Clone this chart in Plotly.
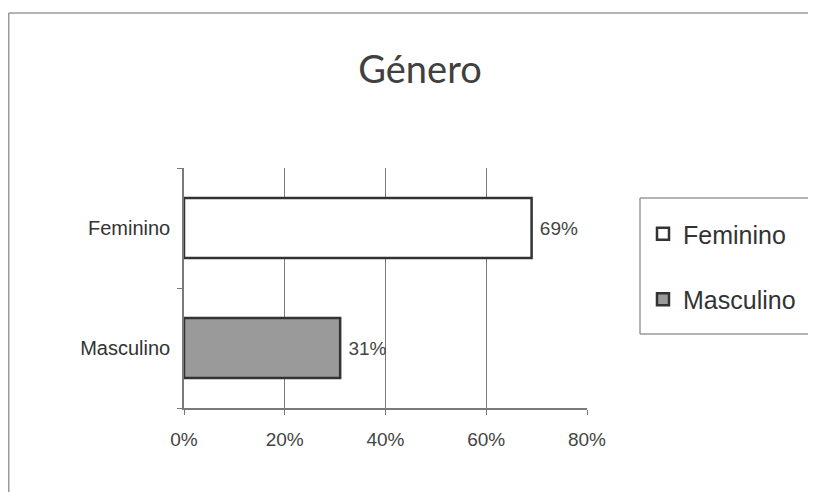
import plotly.graph_objects as go

categories = ["Feminino", "Masculino"]
values = [0.69, 0.31]
labels = ["69%", "31%"]
fills = ["#ffffff", "#9a9a9a"]
x_ticks = [0, 0.2, 0.4, 0.6, 0.8]
x_tick_labels = ["0%", "20%", "40%", "60%", "80%"]

# the page has an 8px body margin; figure coordinates = screen - 8
OFF = 8
W, H = 816 - OFF, 492 - OFF
L, R, T, B = 184 - OFF, W - (587 - OFF), 168 - OFF, H - (408 - OFF)
pw, ph = W - L - R, H - T - B

def px_x(x):
    return (x - OFF - L) / pw

def px_y(y):
    return (H - B - (y - OFF)) / ph

fig = go.Figure()
for c, v, lab, f in zip(categories, values, labels, fills):
    fig.add_trace(go.Bar(
        y=[c], x=[v], orientation="h", name=c, legendgroup=c,
        marker=dict(color=f, line=dict(color="#333333", width=2.5)),
        width=0.5, text=[lab], texttemplate=" %{text}", textposition="outside",
        textfont=dict(family="Liberation Sans", size=19, color="#444444"),
        cliponaxis=False,
    ))

fig.update_layout(
    width=W, height=H,
    margin=dict(l=L, r=R, t=T, b=B),
    paper_bgcolor="white", plot_bgcolor="white",
    barmode="overlay",
    title=dict(text="Género", x=(420 - OFF) / W, xref="container", xanchor="center",
               y=1 - (70 - OFF) / H, yref="container", yanchor="middle",
               font=dict(family="Comic Sans MS, Lato, sans-serif", size=38, color="#404040")),
    font=dict(family="Liberation Sans", size=19, color="#333333"),
    xaxis=dict(range=[0, 0.8], tickvals=x_ticks, ticktext=x_tick_labels,
               showgrid=True, gridcolor="#7a7a7a", gridwidth=1,
               showline=True, linecolor="#7a7a7a", linewidth=1.5,
               ticks="outside", ticklen=5, tickcolor="#7a7a7a",
               zeroline=False, tickfont=dict(size=19, color="#444444"),
               ticklabelstandoff=8),
    yaxis=dict(categoryorder="array", categoryarray=["Masculino", "Feminino"],
               showline=True, linecolor="#7a7a7a", linewidth=1.5,
               ticks="outside", ticklen=5, tickcolor="#7a7a7a",
               tickson="boundaries", showgrid=False,
               tickfont=dict(size=20, color="#333333"), ticklabelstandoff=8),
    legend=dict(x=px_x(643), y=px_y(211), xanchor="left", yanchor="top",
                borderwidth=0, bgcolor="rgba(0,0,0,0)",
                font=dict(family="Liberation Sans", size=25, color="#333333"),
                tracegroupgap=30, traceorder="grouped", itemwidth=30,
                valign="middle"),
    showlegend=True,
)

frame = dict(color="#9a9a9a", width=1.5)
far_right = px_x(830)
# outer chart frame (top and left edges; the rest runs off the picture)
fig.add_shape(type="line", xref="paper", yref="paper",
              x0=px_x(8.75), x1=far_right, y0=px_y(13), y1=px_y(13), line=frame, layer="below")
fig.add_shape(type="line", xref="paper", yref="paper",
              x0=px_x(8.75), x1=px_x(8.75), y0=px_y(13), y1=px_y(500), line=frame, layer="below")
# legend frame (top, left, bottom; right edge runs off the picture)
for yy in (198, 334):
    fig.add_shape(type="line", xref="paper", yref="paper",
                  x0=px_x(640), x1=far_right, y0=px_y(yy), y1=px_y(yy), line=frame, layer="below")
fig.add_shape(type="line", xref="paper", yref="paper",
              x0=px_x(640), x1=px_x(640), y0=px_y(198), y1=px_y(334), line=frame, layer="below")

fig.write_html("out.html", default_width=f"{W}px", default_height=f"{H}px")
